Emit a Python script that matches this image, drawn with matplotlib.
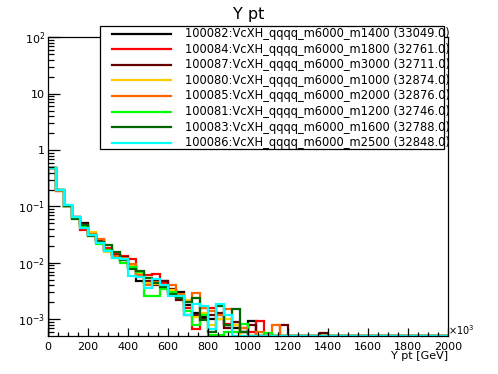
import numpy as np
import matplotlib
matplotlib.use("Agg")
import matplotlib.pyplot as plt
from matplotlib.patches import Rectangle
from matplotlib.lines import Line2D
from matplotlib.ticker import FixedLocator, MultipleLocator, LogLocator, NullFormatter

plt.rcParams['font.family'] = ['DejaVu Sans']
plt.rcParams['mathtext.fontset'] = 'dejavusans'

# ---------------- data ----------------
bin_edges_gev = list(range(0, 2001, 40))

labels = [
    "100082:VcXH_qqqq_m6000_m1400 (33049.0)",
    "100084:VcXH_qqqq_m6000_m1800 (32761.0)",
    "100087:VcXH_qqqq_m6000_m3000 (32711.0)",
    "100080:VcXH_qqqq_m6000_m1000 (32874.0)",
    "100085:VcXH_qqqq_m6000_m2000 (32876.0)",
    "100081:VcXH_qqqq_m6000_m1200 (32746.0)",
    "100083:VcXH_qqqq_m6000_m1600 (32788.0)",
    "100086:VcXH_qqqq_m6000_m2500 (32848.0)",
]
colors = ["#000000", "#ff0000", "#660000", "#ffcc00", "#ff6600", "#00ff00", "#006600", "#00ffff"]

m1400 = [0.482, 0.196, 0.104, 0.065, 0.050, 0.032, 0.025, 0.017, 0.0140, 0.0112,
         0.0085, 0.0048, 0.0045, 0.0047, 0.0048, 0.0030, 0.0030, 0.0018, 0.0013, 0.0011,
         0.0010, 0.0012, 0.0008, 0.0007, 0.0006, 0.00092, 0, 0, 0, 0,
         0, 0, 0, 0, 0, 0, 0, 0, 0, 0, 0, 0, 0, 0, 0, 0, 0, 0, 0, 0]
m1800 = [0.485, 0.192, 0.103, 0.063, 0.039, 0.031, 0.024, 0.018, 0.0143, 0.0130,
         0.0117, 0.0065, 0.0062, 0.0063, 0.0044, 0.0032, 0.0025, 0.0016, 0.00068, 0.0016,
         0.0016, 0.0010, 0.00083, 0.0008, 0.0007, 0.0006, 0.00092, 0, 0, 0,
         0, 0, 0, 0, 0, 0, 0, 0, 0, 0, 0, 0, 0, 0, 0, 0, 0, 0, 0, 0]
m3000 = [0.483, 0.199, 0.104, 0.064, 0.048, 0.031, 0.025, 0.017, 0.0138, 0.0125,
         0.0090, 0.0060, 0.0048, 0.0040, 0.0047, 0.0035, 0.0022, 0.0012, 0.0012, 0.0010,
         0.0012, 0.0013, 0.0007, 0.0009, 0.0006, 0.0008, 0, 0, 0, 0.00079,
         0, 0, 0, 0, 0.00057, 0, 0, 0, 0, 0, 0, 0, 0, 0, 0, 0, 0, 0, 0, 0]
m1000 = [0.487, 0.190, 0.105, 0.063, 0.044, 0.035, 0.026, 0.0159, 0.0133, 0.0118,
         0.0088, 0.0063, 0.0044, 0.0042, 0.0039, 0.0033, 0.0027, 0.0022, 0.0011, 0.0013,
         0.0008, 0.0010, 0.0010, 0.0008, 0, 0, 0, 0, 0, 0,
         0, 0, 0, 0, 0, 0, 0, 0, 0, 0, 0, 0, 0, 0, 0, 0, 0, 0, 0, 0]
m2000 = [0.486, 0.188, 0.104, 0.064, 0.045, 0.033, 0.026, 0.017, 0.0135, 0.0120,
         0.0095, 0.0062, 0.0041, 0.0045, 0.0041, 0.0040, 0.0028, 0.0020, 0.0029, 0.0016,
         0.0014, 0.0012, 0.0015, 0.0006, 0.0007, 0, 0.0006, 0, 0.00079, 0,
         0, 0, 0, 0, 0, 0, 0, 0, 0, 0, 0, 0, 0, 0, 0, 0, 0, 0, 0, 0]
m1200 = [0.490, 0.193, 0.103, 0.062, 0.043, 0.031, 0.022, 0.017, 0.0122, 0.0101,
         0.0085, 0.0068, 0.0026, 0.0026, 0.0034, 0.0030, 0.0026, 0.0014, 0.0008, 0.0012,
         0.00052, 0.00052, 0.0006, 0.0006, 0.00083, 0, 0, 0.00057, 0, 0,
         0, 0, 0, 0, 0, 0, 0, 0, 0, 0, 0, 0, 0, 0, 0, 0, 0, 0, 0, 0]
m1600 = [0.482, 0.194, 0.100, 0.060, 0.046, 0.0295, 0.023, 0.0204, 0.0153, 0.0112,
         0.0078, 0.0073, 0.0054, 0.0044, 0.0038, 0.0028, 0.0024, 0.0020, 0.0024, 0.00096,
         0.00060, 0.0017, 0.0008, 0.0015, 0.0006, 0, 0, 0, 0, 0,
         0, 0, 0, 0, 0, 0, 0, 0, 0, 0, 0, 0, 0, 0, 0, 0, 0, 0, 0, 0]
m2500 = [0.490, 0.197, 0.107, 0.066, 0.041, 0.031, 0.0224, 0.0165, 0.0124, 0.0119,
         0.0059, 0.0057, 0.0036, 0.0052, 0.0040, 0.0026, 0.0026, 0.0012, 0.0019, 0.0017,
         0.00068, 0.0019, 0.0012, 0, 0, 0, 0, 0, 0, 0,
         0, 0, 0, 0, 0, 0, 0, 0, 0, 0, 0, 0, 0, 0, 0, 0, 0, 0, 0, 0]

series = [m1400, m1800, m3000, m1000, m2000, m1200, m1600, m2500]

x_ticks = list(range(0, 2001, 200))
y_tick_vals = [1e-3, 1e-2, 1e-1, 1, 10, 100]
y_tick_text = [r"$10^{-3}$", r"$10^{-2}$", r"$10^{-1}$", "1", "10", r"$10^{2}$"]

YMIN, YMAX = 5.05e-4, 100.0

# ---------------- figure ----------------
W, H = 498, 374
fig = plt.figure(figsize=(W / 100, H / 100), dpi=100)
fig.patch.set_facecolor("white")

def fx(px):
    return px / W

def fy(py):
    return 1 - py / H

L, R, T, B = 48, 448, 37.3, 336
ax = fig.add_axes([fx(L), fy(B), (R - L) / W, (B - T) / H])
ax.set_yscale("log")
ax.set_xlim(0, 2000)
ax.set_ylim(YMIN, YMAX)

edges = np.array(bin_edges_gev, dtype=float)
for vals, col in zip(series, colors):
    v = np.clip(np.array(vals, dtype=float), YMIN, None)
    ax.stairs(v, edges, baseline=YMIN, color=col, linewidth=1.6)

for s in ax.spines.values():
    s.set_linewidth(0.9)

ax.xaxis.set_major_locator(FixedLocator(x_ticks))
ax.xaxis.set_minor_locator(MultipleLocator(50))
ax.set_xticklabels([str(t) for t in x_ticks])
ax.yaxis.set_major_locator(FixedLocator(y_tick_vals))
ax.set_yticklabels(y_tick_text)
ax.yaxis.set_minor_locator(LogLocator(base=10, subs=np.arange(2, 10), numticks=20))
ax.yaxis.set_minor_formatter(NullFormatter())

ax.tick_params(axis="x", which="major", direction="in", length=6, width=0.9, labelsize=8, pad=4)
ax.tick_params(axis="x", which="minor", direction="in", length=3, width=0.9)
ax.tick_params(axis="y", which="major", direction="in", length=8.5, width=0.9, labelsize=8, pad=2)
ax.tick_params(axis="y", which="minor", direction="in", length=4.3, width=0.9)
ax.tick_params(top=False, right=False, which="both")

# axis label and multiplier
fig.text(fx(448), fy(356), "Y pt [GeV]", ha="right", va="center", fontsize=8)
fig.text(fx(448), fy(330), r"$\times10^{3}$", ha="left", va="center", fontsize=7)

# title
fig.text(fx(249), fy(14), "Y pt", ha="center", va="center", fontsize=11.5)

# legend box
fig.add_artist(Rectangle((fx(100), fy(149)), (444 - 100) / W, (149 - 26) / H,
                         transform=fig.transFigure, facecolor="white",
                         edgecolor="black", linewidth=0.9, zorder=5))
row0, dy = 33.5, 15.6
for i, (lab, col) in enumerate(zip(labels, colors)):
    yy = row0 + i * dy
    fig.add_artist(Line2D([fx(112), fx(171)], [fy(yy), fy(yy)], color=col,
                          linewidth=1.6, transform=fig.transFigure, zorder=6))
    fig.text(fx(185), fy(yy), lab, ha="left", va="center", fontsize=8.3, zorder=7)

fig.savefig("out.png", dpi=100, facecolor="white")
